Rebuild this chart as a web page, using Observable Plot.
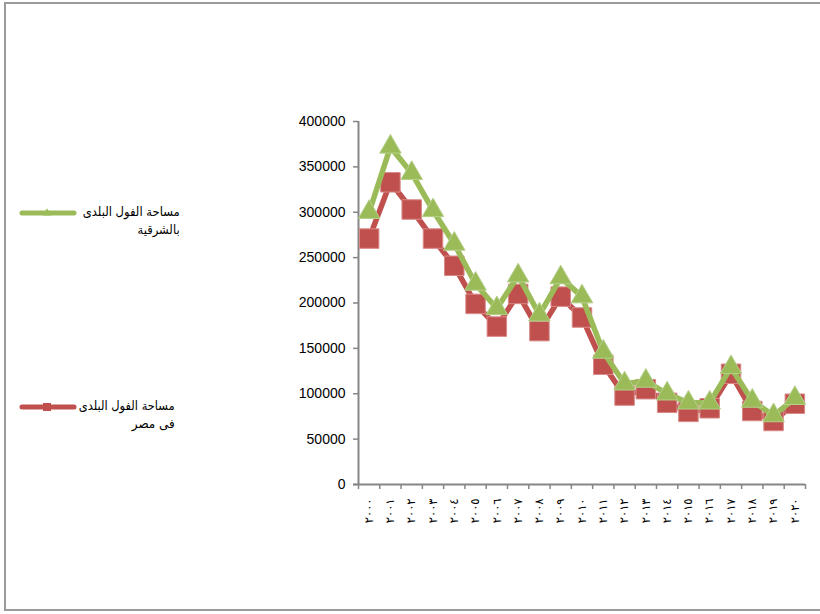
<!DOCTYPE html>
<html>
<head>
<meta charset="utf-8">
<script src="https://cdn.jsdelivr.net/npm/d3@7"></script>
<script src="https://cdn.jsdelivr.net/npm/@observablehq/plot@0.6"></script>
<style>
html, body { margin: 0; padding: 0; background: #fff; overflow: hidden; width: 820px; height: 614px; }
#wrap { position: relative; width: 820px; height: 614px; overflow: hidden; }
#border { position: absolute; left: 4px; top: 2px; width: 840px; height: 609px; border: 2px solid #9a9a9a; box-sizing: border-box; }
#chart { position: absolute; left: 0; top: 0; }
.legtext { position: absolute; width: 130px; direction: rtl; text-align: right; font-family: "DejaVu Sans", "Liberation Sans", Arial, sans-serif; font-size: 12.5px; line-height: 18px; color: #000; white-space: nowrap; }
.legtext span { display: inline-block; transform-origin: right center; }
.legsw { position: absolute; left: 14px; width: 70px; height: 16px; }
</style>
</head>
<body>
<div id="wrap">
  <div id="border"></div>
  <div id="chart"></div>
  <div id="legend"></div>
</div>
<script>
// ---- data ----
const years = ["٢٠٠٠","٢٠٠١","٢٠٠٢","٢٠٠٣","٢٠٠٤","٢٠٠٥","٢٠٠٦","٢٠٠٧","٢٠٠٨","٢٠٠٩","٢٠١٠","٢٠١١","٢٠١٢","٢٠١٣","٢٠١٤","٢٠١٥","٢٠١٦","٢٠١٧","٢٠١٨","٢٠١٩","٢٠٢٠"];
const sharqia = [300000, 372000, 343000, 302000, 265000, 221000, 194000, 230000, 187000, 228000, 207000, 146000, 111000, 114000, 100000, 90000, 90000, 129000, 92000, 76000, 95000];
const egypt   = [271000, 333000, 303000, 271000, 241000, 199000, 174000, 210000, 169000, 207000, 184000, 132000, 98000, 105000, 90000, 80000, 84000, 122000, 81000, 70000, 89000];
const yTicks = [0, 50000, 100000, 150000, 200000, 250000, 300000, 350000, 400000];
const seriesLine1 = ["مساحة الفول البلدى", "مساحة الفول البلدى"];
const seriesLine2 = ["بالشرقية", "فى مصر"];
const colors = ["#9BBB59", "#C0504D"];

// ---- layout ----
const W = 820, H = 614, ML = 358, MR = 15, MT = 121, MB = 130;
const bw = (W - ML - MR) / years.length;
const axisGray = "#868686";

const green = years.map((y, i) => ({year: y, value: sharqia[i]}));
const red = years.map((y, i) => ({year: y, value: egypt[i]}));

const chart = Plot.plot({
  width: W, height: H,
  marginLeft: ML, marginRight: MR, marginTop: MT, marginBottom: MB,
  style: {fontFamily: "'Liberation Sans', Arial, sans-serif", background: "transparent", color: "#000", overflow: "visible"},
  x: {type: "band", domain: years, padding: 0, round: false},
  y: {domain: [0, 400000]},
  marks: [
    Plot.axisY({ticks: yTicks, tickSize: 5, tickPadding: 8, tickFormat: d => String(d), fontSize: 14, stroke: axisGray, strokeWidth: 1.5, label: null}),
    Plot.axisX({tickSize: 0, tickPadding: 14, tickRotate: -90, fontSize: 11.5, label: null, fontFamily: "'DejaVu Sans', sans-serif"}),
    // y axis line
    Plot.ruleX([years[0]], {x: d => d, dx: -bw / 2, stroke: axisGray, strokeWidth: 2}),
    // x axis line
    Plot.ruleY([0], {stroke: axisGray, strokeWidth: 2, insetLeft: -5}),
    // boundary ticks on x axis
    Plot.ruleX(years, {x: d => d, y1: 0, y2: 0, insetBottom: -5, dx: -bw / 2, stroke: axisGray, strokeWidth: 1.5}),
    Plot.ruleX([years[years.length - 1]], {x: d => d, y1: 0, y2: 0, insetBottom: -5, dx: bw / 2, stroke: axisGray, strokeWidth: 1.5}),
    // Egypt (red)
    Plot.line(red, {x: "year", y: "value", stroke: colors[1], strokeWidth: 5.5, strokeLinejoin: "round", strokeLinecap: "round"}),
    Plot.dot(red, {x: "year", y: "value", symbol: "square", r: 11, fill: colors[1], stroke: "#d88a88", strokeWidth: 1}),
    // Sharqia (green)
    Plot.line(green, {x: "year", y: "value", stroke: colors[0], strokeWidth: 5.5, strokeLinejoin: "round", strokeLinecap: "round"}),
    Plot.dot(green, {x: "year", y: "value", symbol: "triangle", r: 8, fill: colors[0], stroke: "#b5d08a", strokeWidth: 1})
  ]
});
document.getElementById("chart").appendChild(chart);

// ---- legend ----
const legend = document.getElementById("legend");
const legendY = [213, 407];
const legendRight = [180, 175];
const lineWidths = [[97, 42], [96, 43]];
const symbols = ["triangle", "square"];
for (let k = 0; k < 2; k++) {
  const sw = document.createElementNS("http://www.w3.org/2000/svg", "svg");
  sw.setAttribute("class", "legsw");
  sw.setAttribute("width", 70);
  sw.setAttribute("height", 16);
  sw.style.top = (legendY[k] - 8) + "px";
  const ln = document.createElementNS("http://www.w3.org/2000/svg", "line");
  ln.setAttribute("x1", 8); ln.setAttribute("x2", 60);
  ln.setAttribute("y1", 8); ln.setAttribute("y2", 8);
  ln.setAttribute("stroke", colors[k]); ln.setAttribute("stroke-width", 5);
  ln.setAttribute("stroke-linecap", "round");
  sw.appendChild(ln);
  const sym = document.createElementNS("http://www.w3.org/2000/svg", "path");
  const sz = symbols[k] === "triangle" ? 30 : 64;
  sym.setAttribute("d", d3.symbol(symbols[k] === "triangle" ? d3.symbolTriangle : d3.symbolSquare, sz)());
  sym.setAttribute("transform", "translate(33,8)");
  sym.setAttribute("fill", colors[k]);
  sw.appendChild(sym);
  legend.appendChild(sw);

  const t = document.createElement("div");
  t.className = "legtext";
  t.style.left = (legendRight[k] - 130) + "px";
  t.style.top = (legendY[k] - 10) + "px";
  const s1 = document.createElement("span"); s1.textContent = seriesLine1[k];
  const s2 = document.createElement("span"); s2.textContent = seriesLine2[k];
  t.appendChild(s1); t.appendChild(document.createElement("br")); t.appendChild(s2);
  legend.appendChild(t);
  [s1, s2].forEach((s, j) => {
    const w = s.getBoundingClientRect().width;
    if (w > 0) {
      const f = Math.max(0.8, Math.min(1.3, lineWidths[k][j] / w));
      s.style.transform = `scaleX(${f})`;
    }
  });
}
</script>
</body>
</html>
